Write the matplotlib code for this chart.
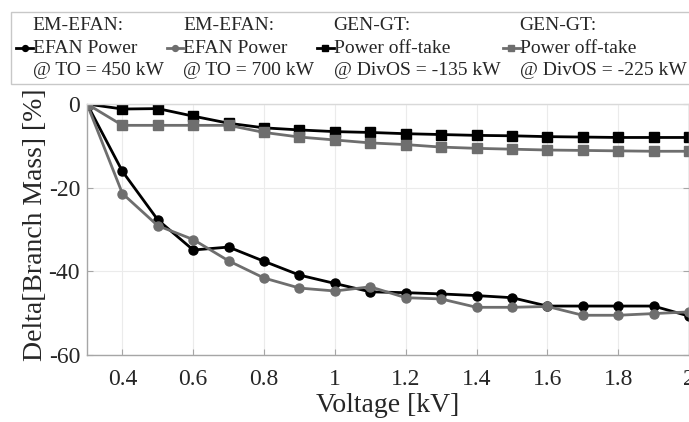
import matplotlib.pyplot as plt
from matplotlib.ticker import FixedLocator

plt.rcParams['font.family'] = ['Liberation Serif', 'DejaVu Serif']
plt.rcParams['axes.unicode_minus'] = False

# Voltage sweep [kV]
voltage = [0.3, 0.4, 0.5, 0.6, 0.7, 0.8, 0.9, 1.0, 1.1, 1.2,
           1.3, 1.4, 1.5, 1.6, 1.7, 1.8, 1.9, 2.0]

# Delta branch mass [%]
efan_450 = [0, -16.1, -27.7, -34.9, -34.2, -37.6, -40.9, -42.9, -44.9, -45.1,
            -45.4, -45.8, -46.3, -48.3, -48.3, -48.3, -48.3, -50.7]
efan_700 = [0, -21.4, -29.1, -32.4, -37.5, -41.6, -44.0, -44.7, -43.7, -46.3,
            -46.6, -48.6, -48.6, -48.4, -50.5, -50.5, -50.1, -49.7]
gen_135 = [0, -1.2, -1.1, -2.9, -4.6, -5.7, -6.2, -6.6, -6.8, -7.1,
           -7.3, -7.5, -7.6, -7.8, -7.9, -8.0, -8.0, -8.0]
gen_225 = [0, -5.1, -5.1, -5.1, -5.1, -6.8, -7.9, -8.6, -9.3, -9.7,
           -10.3, -10.6, -10.8, -11.0, -11.1, -11.2, -11.3, -11.3]

labels = ['EM-EFAN:\nEFAN Power\n@ TO = 450 kW',
          'EM-EFAN:\nEFAN Power\n@ TO = 700 kW',
          'GEN-GT:\nPower off-take\n@ DivOS = -135 kW',
          'GEN-GT:\nPower off-take\n@ DivOS = -225 kW']

BLACK = '#000000'
GREY = '#6e6e6e'
AXIS = '#a6a6a6'
TEXT = '#262626'

fig = plt.figure(figsize=(6.89, 4.22), dpi=100)
ax = fig.add_axes([87 / 689, 1 - 355 / 422, 602 / 689, (355 - 104) / 422])

lw = 2.0
ms = 6.5
h1, = ax.plot(voltage, efan_450, '-o', color=BLACK, lw=lw, ms=ms, label=labels[0])
h2, = ax.plot(voltage, efan_700, '-o', color=GREY, lw=lw, ms=ms, label=labels[1])
h3, = ax.plot(voltage, gen_135, '-s', color=BLACK, lw=lw, ms=ms, label=labels[2])
h4, = ax.plot(voltage, gen_225, '-s', color=GREY, lw=lw, ms=ms, label=labels[3])

ax.set_xlim(0.3, 2.0)
ax.set_ylim(-60, 0)
ax.xaxis.set_major_locator(FixedLocator([0.4, 0.6, 0.8, 1.0, 1.2, 1.4, 1.6, 1.8, 2.0]))
ax.set_xticklabels(['0.4', '0.6', '0.8', '1', '1.2', '1.4', '1.6', '1.8', '2'])
ax.set_yticks([0, -20, -40, -60])

ax.grid(True, color='#ebebeb', lw=0.8)
ax.set_axisbelow(True)
for side in ['left', 'bottom', 'top', 'right']:
    ax.spines[side].set_color(AXIS)
    ax.spines[side].set_linewidth(1.0)
ax.spines['top'].set_color('#d9d9d9')
ax.tick_params(direction='in', length=4, width=0.8, color=AXIS,
               labelsize=17, labelcolor=TEXT, top=False, right=True)
ax.tick_params(axis='x', pad=10)
ax.tick_params(axis='y', pad=5)

ax.set_xlabel('Voltage [kV]', fontsize=20, color=TEXT, labelpad=2)
ax.set_ylabel('Delta[Branch Mass] [%]', fontsize=20, color=TEXT)
ax.yaxis.set_label_coords(-0.065, 0.52)

leg = fig.legend(handles=[h1, h2, h3, h4], loc='upper left', ncol=4,
                 bbox_to_anchor=(11 / 689, 1 - 12 / 422), borderaxespad=0,
                 fontsize=14, frameon=True, fancybox=False, framealpha=1,
                 edgecolor='#c8c8c8', handlelength=0.85, handletextpad=0.0,
                 columnspacing=0.15, borderpad=0.27, markerscale=0.65,
                 labelspacing=0.2)
leg.get_frame().set_linewidth(1.0)
for t in leg.get_texts():
    t.set_color(TEXT)
    t.set_linespacing(1.42)

fig.savefig('out.png', dpi=100)
